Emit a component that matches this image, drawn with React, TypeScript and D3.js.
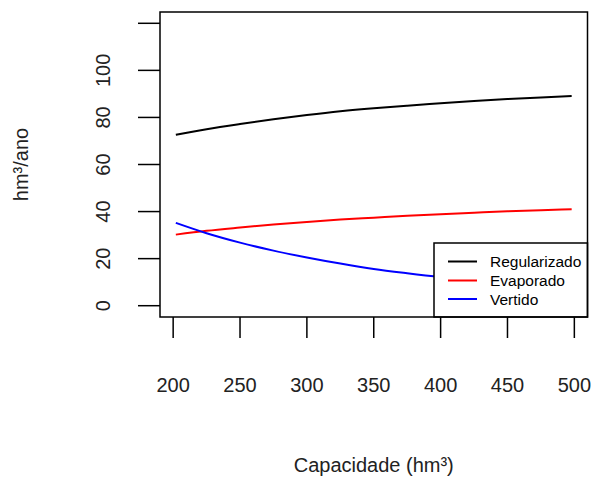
import React from "react";
import * as d3 from "d3";

const capacidade = [202, 225, 250, 275, 300, 325, 350, 375, 400, 425, 450, 475, 498];
const regularizado = [72.6, 75, 77.2, 79.2, 81, 82.6, 83.9, 85, 86, 87, 87.8, 88.5, 89.1];
const evaporado = [30.2, 31.8, 33.2, 34.5, 35.6, 36.6, 37.4, 38.2, 38.9, 39.5, 40.1, 40.6, 41];
const vertido = [35.2, 30.8, 26.8, 23.4, 20.5, 17.9, 15.6, 13.8, 12.2, 10.9, 9.7, 8.7, 7.8];

const xTicks = [200, 250, 300, 350, 400, 450, 500];
const yTicks = [0, 20, 40, 60, 80, 100, 120];
const yLabels = [0, 20, 40, 60, 80, 100];

const series = [
  { name: "Regularizado", values: regularizado, color: "#000000" },
  { name: "Evaporado", values: evaporado, color: "#ff0000" },
  { name: "Vertido", values: vertido, color: "#0000ff" },
];

const W = 592;
const H = 477;
const font = "'Liberation Sans', Arial, sans-serif";

export default function App() {
  // R style 4% expansion around the data range
  const xMin = d3.min(capacidade)!;
  const xMax = d3.max(capacidade)!;
  const xPad = (xMax - xMin) * 0.04;
  const x = d3.scaleLinear().domain([xMin - xPad, xMax + xPad]).range([160, 587.5]);
  const y = d3.scaleLinear().domain([-4.8, 124.8]).range([317, 12]);

  const [bx0, bx1] = x.range();
  const [by1, by0] = y.range();

  const line = (vals: number[]) =>
    d3
      .line<number>()
      .x((_, i) => x(capacidade[i]))
      .y((d) => y(d))
      .curve(d3.curveMonotoneX)(vals) || "";

  const leg = { x0: 434, y0: 243, rows: [261.5, 280.5, 299] };

  return (
    <svg
      width={W}
      height={H}
      style={{ position: "absolute", left: 0, top: 0, background: "#fff" }}
      fontFamily={font}
    >
      <rect x={0} y={0} width={W} height={H} fill="#fff" />

      {series.map((s) => (
        <path key={s.name} d={line(s.values)} fill="none" stroke={s.color} strokeWidth={2} />
      ))}

      {/* legend (opaque, covers the lines) */}
      <rect
        x={leg.x0}
        y={leg.y0}
        width={bx1 - leg.x0}
        height={by1 - leg.y0}
        fill="#fff"
        stroke="#000"
        strokeWidth={1.5}
      />
      {series.map((s, i) => (
        <g key={s.name}>
          <line x1={448} x2={477} y1={leg.rows[i]} y2={leg.rows[i]} stroke={s.color} strokeWidth={2} />
          <text x={490} y={leg.rows[i]} dy="0.36em" fontSize={15.5} fill="#000">
            {s.name}
          </text>
        </g>
      ))}

      {/* box */}
      <rect x={bx0} y={by0} width={bx1 - bx0} height={by1 - by0} fill="none" stroke="#000" strokeWidth={1.5} />

      {/* x axis */}
      {xTicks.map((t) => (
        <g key={t}>
          <line x1={x(t)} x2={x(t)} y1={by1} y2={by1 + 21} stroke="#000" strokeWidth={1.5} />
          <text x={x(t)} y={391.5} textAnchor="middle" fontSize={20} fill="#222">
            {t}
          </text>
        </g>
      ))}

      {/* y axis */}
      {yTicks.map((t) => (
        <line key={t} x1={bx0 - 22} x2={bx0} y1={y(t)} y2={y(t)} stroke="#000" strokeWidth={1.5} />
      ))}
      {yLabels.map((t) => (
        <text
          key={t}
          transform={`translate(110,${y(t)}) rotate(-90)`}
          textAnchor="middle"
          fontSize={20}
          fill="#222"
        >
          {t}
        </text>
      ))}

      <text x={(bx0 + bx1) / 2} y={472} textAnchor="middle" fontSize={20} fill="#222">
        Capacidade (hm³)
      </text>
      <text
        transform={`translate(28,${(by0 + by1) / 2}) rotate(-90)`}
        textAnchor="middle"
        fontSize={20}
        fill="#222"
      >
        hm³/ano
      </text>
    </svg>
  );
}
